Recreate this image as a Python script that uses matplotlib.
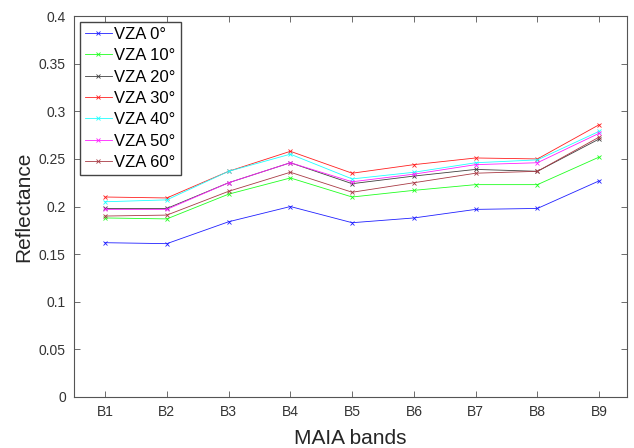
import matplotlib.pyplot as plt
from matplotlib.ticker import FuncFormatter

bands = ['B1', 'B2', 'B3', 'B4', 'B5', 'B6', 'B7', 'B8', 'B9']

vza_0 = [0.162, 0.161, 0.184, 0.200, 0.183, 0.188, 0.197, 0.198, 0.227]
vza_10 = [0.188, 0.187, 0.213, 0.230, 0.210, 0.217, 0.223, 0.223, 0.252]
vza_20 = [0.198, 0.198, 0.225, 0.246, 0.224, 0.232, 0.239, 0.237, 0.271]
vza_30 = [0.210, 0.209, 0.237, 0.258, 0.235, 0.244, 0.251, 0.250, 0.286]
vza_40 = [0.205, 0.207, 0.237, 0.255, 0.229, 0.236, 0.246, 0.249, 0.279]
vza_50 = [0.197, 0.197, 0.225, 0.246, 0.226, 0.234, 0.244, 0.246, 0.277]
vza_60 = [0.190, 0.191, 0.216, 0.236, 0.215, 0.225, 0.235, 0.237, 0.273]

series = [
    ('VZA 0°', vza_0, '#2020ff'),
    ('VZA 10°', vza_10, '#20ff20'),
    ('VZA 20°', vza_20, '#404040'),
    ('VZA 30°', vza_30, '#ff2020'),
    ('VZA 40°', vza_40, '#20ffff'),
    ('VZA 50°', vza_50, '#ff20ff'),
    ('VZA 60°', vza_60, '#a83a44'),
]

plt.rcParams['font.family'] = ['Liberation Sans', 'DejaVu Sans']

fig = plt.figure(figsize=(6.34, 4.48), dpi=100)
ax = fig.add_axes([0.117, 0.114, 0.872, 0.85])

x = list(range(1, len(bands) + 1))
for label, vals, col in series:
    ax.plot(x, vals, color=col, lw=0.6, marker='x', ms=3, mew=0.6, label=label)

ax.set_xlim(0.5, 9.45)
ax.set_ylim(0, 0.4)
ax.set_xticks(x)
ax.set_xticklabels(bands)
ax.set_yticks([i * 0.05 for i in range(9)])
ax.yaxis.set_major_formatter(FuncFormatter(lambda v, p: f'{v:.2f}'.rstrip('0').rstrip('.')))

axis_col = '#555555'
for s in ax.spines.values():
    s.set_color(axis_col)
    s.set_linewidth(0.8)
ax.tick_params(direction='in', top=True, right=True, length=4, width=0.6,
               color=axis_col, labelsize=10, labelcolor='#333333', pad=6)

ax.set_xlabel('MAIA bands', fontsize=15, color='#262626', labelpad=7)
ax.set_ylabel('Reflectance', fontsize=15, color='#262626', labelpad=4)

ax.legend(loc='upper left', fontsize=12, handlelength=1.6, handletextpad=0.15,
          labelspacing=0.38, borderpad=0.3, borderaxespad=0.35,
          fancybox=False, edgecolor='#444444', framealpha=1)

fig.savefig('out.png', dpi=100)
